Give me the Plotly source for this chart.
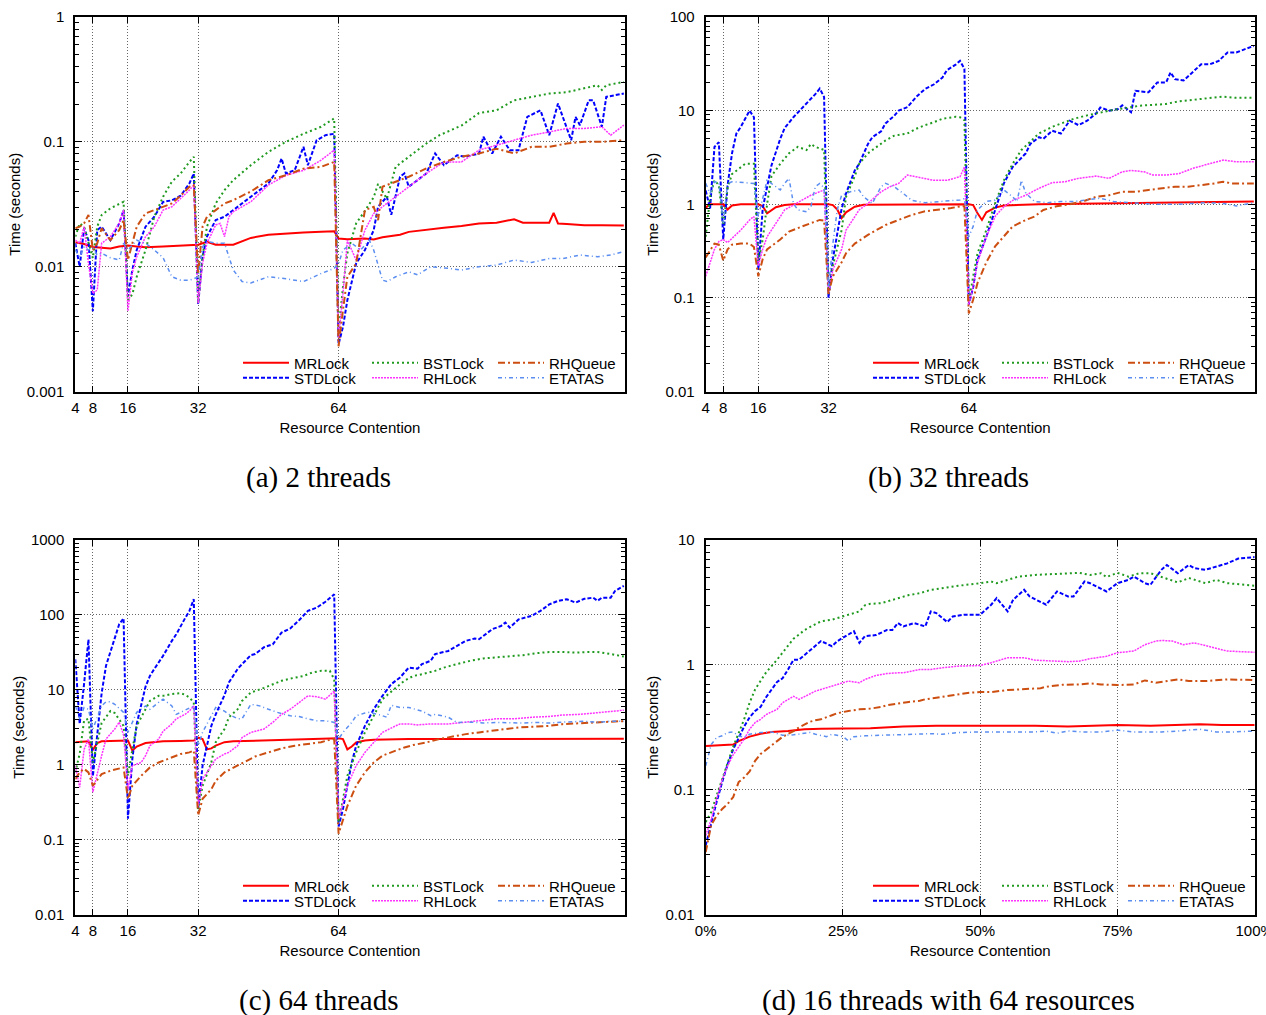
import sys
import plotly.graph_objects as go

W, H = 1266, 1015
FONT = "Liberation Sans, Arial, Helvetica, sans-serif"
SERIF = "Liberation Serif, Times New Roman, serif"

SERIES = ["MRLock", "STDLock", "BSTLock", "RHLock", "RHQueue", "ETATAS"]

# ---------------- (a) 2 threads ----------------
A_MRLOCK_X = [4,6,8,10,12,14,16,18,20,24,28,32,34,36,40,42,44,48,52,56,60,63,64,66,70,72,74,76,78,80,84,88,92,96,100,104,106,108,112,113,114,116,120,124,129]
A_MRLOCK_Y = [0.0157,0.0152,0.0144,0.0141,0.014,0.0145,0.0148,0.0145,0.0143,0.0145,0.0148,0.015,0.0158,0.015,0.015,0.016,0.017,0.018,0.0185,0.0188,0.019,0.0192,0.0168,0.0166,0.0168,0.0165,0.0172,0.0175,0.018,0.019,0.0198,0.0205,0.0212,0.0222,0.0225,0.024,0.0225,0.0225,0.0225,0.027,0.0222,0.022,0.0215,0.0215,0.0214]
A_STDLOCK_X = [4,5,6,7,8,9,10,12,14,15,16,17,18,20,22,24,26,28,30,31,32,33,34,36,38,40,44,48,50,51,52,54,56,57,59,61,63,64,65,66,68,70,72,73,75,76,78,79,80,82,84,86,88,91,93,96,97,99,101,103,105,107,110,112,114,117,118,119,121,122,124,125,129]
A_STDLOCK_Y = [0.0154,0.010,0.0203,0.0163,0.0044,0.0196,0.0209,0.0163,0.0222,0.0284,0.0058,0.0094,0.0136,0.0209,0.0251,0.033,0.034,0.037,0.0464,0.0558,0.005,0.012,0.0174,0.0236,0.0251,0.0284,0.0363,0.0464,0.0593,0.0736,0.0558,0.0593,0.0912,0.065,0.103,0.113,0.116,0.0024,0.0033,0.0054,0.0106,0.0136,0.0196,0.0302,0.0363,0.026,0.0525,0.0558,0.0437,0.0493,0.0558,0.0807,0.065,0.078,0.0759,0.0807,0.11,0.0807,0.11,0.0858,0.0858,0.1585,0.179,0.113,0.2027,0.103,0.1585,0.136,0.215,0.215,0.132,0.229,0.2436]
A_BSTLOCK_X = [4,5,6,7,8,9,10,12,14,15,16,17,18,20,22,24,26,28,30,31,32,33,34,36,38,40,44,48,52,56,60,63,64,65,66,68,70,72,73,75,77,80,84,87,92,96,100,104,108,112,116,120,123,124,125,129]
A_BSTLOCK_Y = [0.0174,0.0222,0.0209,0.0154,0.0117,0.0209,0.0259,0.0293,0.032,0.0331,0.0054,0.006,0.0083,0.0136,0.0251,0.0363,0.048,0.0558,0.069,0.0759,0.0051,0.012,0.0209,0.0321,0.041,0.0493,0.065,0.083,0.1,0.116,0.132,0.154,0.003,0.0069,0.0128,0.0222,0.028,0.036,0.046,0.035,0.063,0.0759,0.097,0.113,0.135,0.17,0.179,0.215,0.229,0.2436,0.25,0.267,0.284,0.26,0.284,0.302]
A_RHLOCK_X = [4,5,6,7,8,9,10,12,14,15,16,17,18,20,22,24,26,28,30,31,32,33,34,36,37,38,39,40,44,48,52,56,60,63,64,65,66,68,70,72,76,80,84,88,92,96,100,104,108,112,116,120,124,126,129]
A_RHLOCK_Y = [0.0163,0.0154,0.0209,0.0106,0.0061,0.0065,0.0154,0.0174,0.0222,0.0284,0.0044,0.009,0.012,0.0174,0.0209,0.0284,0.0302,0.035,0.041,0.045,0.0051,0.0106,0.0154,0.0216,0.0222,0.0174,0.0251,0.0276,0.0331,0.045,0.054,0.059,0.0713,0.0858,0.0027,0.0061,0.0163,0.0113,0.0196,0.0267,0.034,0.0437,0.0558,0.069,0.069,0.0858,0.094,0.103,0.113,0.12,0.128,0.128,0.132,0.113,0.136]
A_RHQUEUE_X = [4,5,6,7,8,9,10,12,14,15,16,17,18,20,22,24,26,28,30,31,32,33,34,36,38,40,44,48,52,56,60,63,64,65,66,68,70,72,73,74,76,80,84,88,92,96,100,104,108,112,116,120,124,129]
A_RHQUEUE_Y = [0.0203,0.0209,0.0222,0.026,0.0136,0.0154,0.0203,0.0163,0.0196,0.0236,0.0113,0.0154,0.0209,0.0267,0.0284,0.0302,0.0321,0.037,0.0437,0.045,0.0088,0.0209,0.0251,0.0284,0.0321,0.0341,0.04,0.0493,0.054,0.061,0.063,0.069,0.0023,0.0045,0.0083,0.0106,0.0284,0.0302,0.0236,0.0437,0.0464,0.0525,0.0612,0.069,0.0759,0.0807,0.088,0.0807,0.0912,0.0912,0.097,0.1,0.1,0.103]
A_ETATAS_X = [4,5,6,7,8,9,10,12,14,15,16,17,18,20,22,24,26,28,30,31,32,33,34,36,38,40,42,44,48,52,56,60,63,64,65,67,69,71,72,74,75,77,80,82,85,89,92,96,100,104,108,112,115,119,123,126,129]
A_ETATAS_Y = [0.0136,0.012,0.0144,0.0136,0.0141,0.0124,0.0128,0.0118,0.0113,0.0154,0.0136,0.0149,0.0163,0.0154,0.0136,0.0118,0.0083,0.0078,0.0078,0.008,0.0083,0.0144,0.0159,0.0154,0.0154,0.0094,0.0076,0.0074,0.0083,0.008,0.0076,0.0088,0.0097,0.0106,0.0136,0.0154,0.0136,0.0163,0.0136,0.0078,0.0076,0.0083,0.0091,0.0086,0.01,0.0097,0.0094,0.01,0.0103,0.0113,0.0108,0.0116,0.0116,0.0124,0.012,0.0124,0.0132]

# ---------------- (b) 32 threads ----------------
B_MRLOCK_X = [4,5,8,9,10,12,16,17,18,19,20,22,24,32,33,34,35,36,38,40,64,65,66,67,68,70,72,80,96,112,129]
B_MRLOCK_Y = [0.92,1.0,1.0,0.88,0.97,1.0,1.0,0.95,0.8,0.86,0.93,0.98,1.0,1.0,0.98,0.88,0.71,0.82,0.94,0.99,1.0,0.98,0.8,0.68,0.82,0.92,0.97,1.0,1.02,1.05,1.07]
B_STDLOCK_X = [4,5,6,7,8,9,10,11,12,13,14,15,16,17,18,19,21,22,24,27,29,30,31,32,33,35,36,38,39,41,42,44,45,47,48,50,52,54,56,58,59,61,62,63,64,65,66,68,70,72,74,77,78,80,81,83,85,87,89,91,93,94,96,98,99,101,102,105,107,109,110,111,113,115,117,119,121,123,125,127,129]
B_STDLOCK_Y = [1.4,0.9,4.1,4.6,0.42,1.6,3.5,5.7,6.7,8.2,10,8.5,0.2,0.9,1.6,2.6,5.0,6.5,8.5,11.8,15,17.2,14,0.1,0.26,0.9,1.3,2.3,2.7,4.4,5.2,6,7.3,8.8,10,10.9,14,17,19,22.6,27,31,34,28,0.085,0.13,0.256,0.45,0.87,1.67,2.5,3.5,4.4,5.2,5.0,6.1,5.7,7.8,7.0,7.8,9.3,10.8,10.0,10.4,11.4,9.6,16.3,15.7,20,20,25.6,21.7,21,25.6,31.3,31.3,34,41.8,41.8,45.4,49]
B_BSTLOCK_X = [4,5,6,7,8,9,10,12,13,15,16,17,18,19,21,23,25,27,28,29,31,32,33,35,36,38,39,41,43,45,47,50,52,54,56,58,61,62,63,64,65,66,68,70,72,74,76,78,80,83,85,88,91,94,97,100,103,106,109,112,115,118,122,125,129]
B_BSTLOCK_Y = [0.45,1.2,1.8,1.6,0.6,1.5,2.1,2.5,2.7,2.7,0.24,0.42,1.0,2.0,2.7,3.5,4.1,3.8,4.4,4.1,3.8,0.11,0.22,0.53,1.2,2.0,2.7,3.5,4.1,4.8,5.4,5.7,6.4,7.0,7.5,8.2,8.6,8.5,7.9,0.09,0.17,0.3,0.53,1.02,1.8,2.7,3.8,4.6,5.7,6.7,7.3,8.2,8.9,9.6,10.2,10.7,11.3,11.5,11.8,12.6,13,13.3,14.1,13.7,13.7]
B_RHLOCK_X = [4,5,6,7,8,9,12,14,15,16,17,18,20,22,24,26,28,31,32,33,35,36,38,39,41,44,46,48,50,52,54,56,59,61,62,63,64,65,66,68,70,72,74,77,80,83,86,89,93,96,99,101,104,106,109,112,115,119,122,125,129]
B_RHLOCK_Y = [0.17,0.24,0.33,0.4,0.42,0.39,0.53,0.68,0.74,0.22,0.33,0.45,0.63,0.87,0.98,1.1,1.25,1.42,0.11,0.2,0.33,0.53,0.74,0.87,1.02,1.36,1.54,1.67,2.05,1.97,1.89,1.8,1.8,1.89,1.97,2.5,0.085,0.134,0.24,0.45,0.74,0.94,1.1,1.25,1.48,1.7,1.74,1.89,2.0,1.89,2.22,2.3,2.22,2.05,2.05,2.13,2.41,2.72,2.96,2.84,2.84]
B_RHQUEUE_X = [4,6,7,8,9,10,12,14,15,16,17,18,21,23,26,28,30,31,32,33,35,36,38,41,43,45,48,51,54,57,60,62,63,64,65,66,68,70,72,74,77,79,81,84,87,90,93,96,99,102,105,108,111,114,117,120,122,124,129]
B_RHQUEUE_Y = [0.27,0.38,0.37,0.25,0.33,0.37,0.38,0.38,0.35,0.17,0.26,0.33,0.42,0.51,0.58,0.63,0.68,0.67,0.11,0.17,0.24,0.3,0.38,0.47,0.53,0.6,0.68,0.77,0.84,0.87,0.91,0.95,0.95,0.068,0.096,0.145,0.24,0.355,0.45,0.58,0.68,0.74,0.87,0.95,1.0,1.07,1.2,1.25,1.36,1.36,1.42,1.48,1.54,1.54,1.6,1.67,1.74,1.67,1.67]
B_ETATAS_X = [4,5,6,7,8,9,10,12,14,15,16,17,18,20,21,22,23,24,25,27,28,29,30,31,32,33,34,35,37,39,40,42,44,45,47,49,51,54,57,60,62,63,64,65,66,68,70,72,74,75,76,77,79,82,85,88,91,94,97,100,103,106,109,112,115,118,122,125,129]
B_ETATAS_Y = [1.67,1.3,1.74,1.7,0.63,1.67,1.74,1.7,1.67,1.67,0.74,1.2,1.8,1.54,1.42,1.67,1.89,1.02,0.87,0.83,0.95,1.54,1.67,1.5,0.13,0.38,0.87,1.25,1.36,1.42,1.2,1.02,1.54,1.67,1.54,1.31,1.1,1.04,1.07,1.09,1.11,1.15,0.45,0.58,0.87,1.07,1.11,1.42,1.2,1.07,1.8,1.31,1.07,1.04,1.07,1.07,1.11,1.16,1.07,1.04,1.02,1.0,1.0,1.0,1.02,1.04,1.02,0.96,1.04]

# ---------------- (c) 64 threads ----------------
C_MRLOCK_X = [4,7,8,9,10,12,16,17,18,20,24,28,31,32,33,34,35,36,38,40,48,56,63,64,65,66,67,68,70,72,80,96,112,129]
C_MRLOCK_Y = [2.0,2.05,1.58,1.95,2.05,2.08,2.1,1.54,1.75,1.95,2.05,2.08,2.1,2.3,2.2,1.6,1.65,1.8,2.0,2.05,2.1,2.15,2.2,2.25,2.2,1.6,1.75,1.98,2.1,2.15,2.2,2.22,2.22,2.22]
C_STDLOCK_X = [4,5,6,7,8,9,10,11,12,13,14,15,16,17,18,20,21,22,24,26,27,29,30,31,32,33,35,36,38,39,41,42,44,45,47,49,51,53,55,57,59,61,63,64,65,66,67,68,70,72,74,76,78,80,82,83,85,86,89,91,93,95,96,98,99,101,102,103,105,108,110,112,114,116,118,120,122,123,124,126,127,129]
C_STDLOCK_Y = [25.6,3.5,12,47,0.7,2.5,9,21,32,52,75,90,0.19,1.2,3.5,11,15.3,19,28.4,45,55,90,113,162,0.256,0.97,3.3,4.7,8.5,12.5,19,22,29,30,37,40.5,58,66,85,113,125,150,188,0.15,0.256,0.525,1.07,1.79,3.3,5.5,8.3,11.9,14.6,19.8,19.2,22,24.4,30,33,38.6,45,48.4,47.4,58,64.5,71,79,67.6,87,97,113,138,154,162,146,164,170,154,170,170,209,244]
C_BSTLOCK_X = [4,5,6,7,8,9,10,12,13,15,16,17,18,20,21,23,24,26,28,29,30,31,32,33,35,36,38,39,41,42,44,47,49,51,53,56,58,60,62,63,64,65,66,68,70,72,74,77,79,81,83,86,88,91,94,97,100,103,106,109,112,115,118,121,123,126,129]
C_BSTLOCK_Y = [0.79,1.4,3.9,4.1,1.07,2.0,3.6,5.2,4.9,3.3,0.71,1.6,3.3,5.5,7.1,8.3,8.3,8.8,9.0,8.6,7.9,6.8,0.256,0.52,1.07,2.0,3.0,4.3,5.5,7.1,9.2,10.6,11.8,13.2,14.1,15.3,17,17.9,17.9,13.9,0.17,0.35,0.71,1.46,2.7,4.5,7.5,10.6,13.2,15.3,16.1,17.9,19.8,22,24.4,26.2,27,27.8,29,30.8,32,32,31.4,32,32,30,27.8]
C_RHLOCK_X = [4,5,6,7,8,9,10,11,13,14,15,16,17,19,20,21,23,24,26,27,29,30,31,32,33,35,36,38,39,41,42,44,47,49,51,53,55,57,59,61,63,64,65,66,68,70,72,74,77,78,80,82,85,89,93,96,100,104,108,112,115,119,123,127,129]
C_RHLOCK_Y = [0.97,0.5,1.6,2.2,0.43,0.79,1.32,2.2,3.0,3.7,2.5,0.47,0.97,1.07,1.32,1.79,2.2,2.8,3.5,4.1,4.7,5.2,6.1,0.28,0.64,0.97,1.19,1.39,1.46,1.79,2.3,2.7,3.0,3.67,4.7,5.5,6.8,8.3,8.1,7.5,9.6,0.19,0.31,0.525,0.97,1.46,1.98,2.7,3.3,3.5,3.5,3.4,3.5,3.5,3.7,3.86,4.1,4.1,4.3,4.4,4.6,4.7,5.0,5.2,5.35]
C_RHQUEUE_X = [4,5,6,7,8,9,10,12,14,15,16,17,19,21,23,26,28,30,31,32,33,35,36,38,41,43,45,48,51,54,57,60,62,63,64,65,66,68,70,72,74,77,79,81,84,87,90,93,96,99,102,105,108,112,115,119,123,127,129]
C_RHQUEUE_Y = [0.64,0.79,0.88,0.79,0.525,0.64,0.75,0.83,0.88,0.92,0.35,0.525,0.71,0.92,1.07,1.25,1.39,1.46,1.54,0.21,0.35,0.47,0.61,0.79,0.97,1.13,1.29,1.46,1.65,1.79,1.89,2.0,2.15,2.2,0.12,0.19,0.28,0.525,0.79,1.07,1.32,1.54,1.7,1.83,1.98,2.2,2.4,2.56,2.7,2.84,2.99,3.14,3.2,3.3,3.48,3.6,3.67,3.78,3.82]
C_ETATAS_X = [4,5,6,7,8,9,10,11,12,13,15,16,17,18,20,21,23,24,26,27,28,30,31,32,33,35,36,38,39,41,42,44,46,48,50,53,55,57,59,61,63,64,65,67,68,70,71,73,75,76,78,80,83,85,86,89,91,94,97,100,103,106,109,112,115,120,123,126,129]
C_ETATAS_Y = [6.1,4.1,5.8,5.5,3.0,4.3,6.1,6.9,6.9,6.4,5.0,2.7,3.67,5.0,6.1,5.5,6.8,7.5,6.1,4.7,5.0,5.8,6.1,1.8,2.7,4.5,5.8,5.2,4.7,4.1,4.1,6.4,6.1,5.5,5.0,4.5,4.4,4.1,3.86,3.86,3.67,2.2,2.7,3.67,4.5,4.9,5.0,4.7,4.3,6.2,5.8,5.8,5.2,4.5,4.7,4.3,3.67,3.7,3.6,3.67,3.6,3.6,3.67,3.6,3.7,3.8,3.7,3.8,3.8]

# ---------------- (d) 16 threads with 64 resources (x in %) ----------------
D_MRLOCK_X = [0,2,5,6,8,10,12,15,18,21,25,30,36,42,50,60,66,72,75,81,85,90,94,100]
D_MRLOCK_Y = [0.224,0.227,0.23,0.245,0.266,0.28,0.29,0.295,0.305,0.308,0.308,0.31,0.32,0.325,0.325,0.325,0.32,0.325,0.33,0.325,0.33,0.334,0.33,0.33]
D_STDLOCK_X = [0,1,2,3,4,5,7,8,9,10,11,13,14,15,16,17,19,21,23,24,26,27,28,29,31,33,34,35,36,38,40,41,42,44,45,47,50,52,53,55,56,58,59,62,64,66,67,69,70,73,75,77,78,80,81,83,84,86,88,89,91,93,95,97,100]
D_STDLOCK_Y = [0.0357,0.055,0.08,0.115,0.16,0.21,0.32,0.38,0.427,0.46,0.55,0.73,0.78,0.918,1.1,1.1,1.3,1.55,1.41,1.55,1.75,1.86,1.5,1.7,1.73,1.9,1.9,2.16,2.03,2.16,2.03,2.68,2.6,2.2,2.44,2.52,2.52,3.03,3.42,2.68,3.32,3.99,3.53,3.03,3.87,3.53,3.53,4.65,4.51,3.87,4.51,4.79,5.09,4.51,4.37,5.77,6.3,5.42,6.3,5.95,5.77,6.13,6.5,7.1,7.3]
D_BSTLOCK_X = [0,1,2,3,4,5,7,8,9,10,11,13,14,15,16,17,18,20,21,23,24,26,27,28,29,30,32,34,36,37,39,41,43,45,46,50,52,53,55,57,60,63,66,68,70,72,73,75,77,79,81,83,86,88,89,91,93,95,100]
D_BSTLOCK_Y = [0.055,0.066,0.09,0.12,0.16,0.22,0.366,0.497,0.636,0.74,0.87,1.1,1.25,1.41,1.62,1.75,1.9,2.12,2.23,2.3,2.37,2.55,2.6,2.68,3.0,3.08,3.12,3.32,3.55,3.62,3.75,3.99,4.1,4.24,4.3,4.51,4.65,4.51,4.79,5.09,5.25,5.34,5.42,5.46,5.25,5.42,5.05,5.46,5.09,5.42,5.42,5.05,4.57,4.96,4.79,4.51,4.79,4.51,4.3]
D_RHLOCK_X = [0,1,2,3,4,5,7,8,9,10,11,13,14,16,17,19,20,22,24,26,28,29,31,33,35,36,39,41,43,46,50,52,55,58,60,63,66,68,70,73,75,78,80,82,83,85,87,89,91,93,95,100]
D_RHLOCK_Y = [0.043,0.058,0.084,0.12,0.155,0.19,0.254,0.305,0.345,0.366,0.4,0.44,0.497,0.56,0.529,0.58,0.616,0.655,0.697,0.741,0.718,0.764,0.822,0.852,0.863,0.863,0.918,0.918,0.946,0.976,0.988,1.04,1.14,1.14,1.09,1.07,1.06,1.07,1.12,1.17,1.25,1.29,1.45,1.55,1.57,1.55,1.45,1.5,1.43,1.37,1.29,1.26]
D_RHQUEUE_X = [0,1,2,3,4,5,6,7,8,9,10,11,13,14,15,16,17,19,20,21,23,24,26,28,30,32,33,35,37,39,40,42,44,46,48,50,52,55,58,61,62,65,68,70,72,75,78,80,82,86,88,91,95,100]
D_RHQUEUE_Y = [0.0316,0.052,0.062,0.07,0.077,0.087,0.115,0.125,0.14,0.17,0.193,0.21,0.245,0.265,0.278,0.295,0.315,0.35,0.36,0.366,0.395,0.41,0.427,0.44,0.446,0.46,0.474,0.49,0.504,0.515,0.53,0.545,0.562,0.587,0.598,0.605,0.605,0.628,0.636,0.65,0.668,0.692,0.697,0.71,0.697,0.688,0.697,0.75,0.718,0.764,0.741,0.741,0.764,0.755]
D_ETATAS_X = [0,1,2,3,4,5,6,7,8,10,12,13,14,16,18,19,20,22,23,25,26,27,29,32,34,36,39,41,43,46,50,53,57,60,62,64,66,69,72,75,78,80,83,86,90,93,96,100]
D_ETATAS_Y = [0.155,0.23,0.262,0.27,0.287,0.29,0.27,0.262,0.278,0.287,0.29,0.283,0.273,0.275,0.281,0.287,0.278,0.266,0.278,0.266,0.246,0.266,0.27,0.273,0.273,0.278,0.278,0.281,0.278,0.287,0.29,0.29,0.29,0.29,0.295,0.283,0.295,0.29,0.29,0.3,0.29,0.29,0.29,0.295,0.305,0.29,0.29,0.295]

CONTENTION_TICKS = [4, 8, 16, 32, 64]
PERCENT_TICKS = [0, 25, 50, 75, 100]
PERCENT_LABELS = ["0%", "25%", "50%", "75%", "100%"]
CAPTIONS = ["(a) 2 threads", "(b) 32 threads", "(c) 64 threads", "(d) 16 threads with 64 resources"]

STYLE = {
    "MRLock":  dict(color="#ff0000", dash="solid", width=2),
    "STDLock": dict(color="#0000ff", dash="4px,2px", width=2),
    "BSTLock": dict(color="#1f9a1f", dash="2px,3px", width=2),
    "RHLock":  dict(color="#ff33ff", dash="2px,1px", width=1.5),
    "RHQueue": dict(color="#cc4e10", dash="7px,3px,2px,3px", width=2),
    "ETATAS":  dict(color="#5b8ef0", dash="4px,3px,1px,3px", width=1.5),
}

DATA = {
    "a": {"MRLock": (A_MRLOCK_X, A_MRLOCK_Y), "STDLock": (A_STDLOCK_X, A_STDLOCK_Y),
          "BSTLock": (A_BSTLOCK_X, A_BSTLOCK_Y), "RHLock": (A_RHLOCK_X, A_RHLOCK_Y),
          "RHQueue": (A_RHQUEUE_X, A_RHQUEUE_Y), "ETATAS": (A_ETATAS_X, A_ETATAS_Y)},
    "b": {"MRLock": (B_MRLOCK_X, B_MRLOCK_Y), "STDLock": (B_STDLOCK_X, B_STDLOCK_Y),
          "BSTLock": (B_BSTLOCK_X, B_BSTLOCK_Y), "RHLock": (B_RHLOCK_X, B_RHLOCK_Y),
          "RHQueue": (B_RHQUEUE_X, B_RHQUEUE_Y), "ETATAS": (B_ETATAS_X, B_ETATAS_Y)},
    "c": {"MRLock": (C_MRLOCK_X, C_MRLOCK_Y), "STDLock": (C_STDLOCK_X, C_STDLOCK_Y),
          "BSTLock": (C_BSTLOCK_X, C_BSTLOCK_Y), "RHLock": (C_RHLOCK_X, C_RHLOCK_Y),
          "RHQueue": (C_RHQUEUE_X, C_RHQUEUE_Y), "ETATAS": (C_ETATAS_X, C_ETATAS_Y)},
    "d": {"MRLock": (D_MRLOCK_X, D_MRLOCK_Y), "STDLock": (D_STDLOCK_X, D_STDLOCK_Y),
          "BSTLock": (D_BSTLOCK_X, D_BSTLOCK_Y), "RHLock": (D_RHLOCK_X, D_RHLOCK_Y),
          "RHQueue": (D_RHQUEUE_X, D_RHQUEUE_Y), "ETATAS": (D_ETATAS_X, D_ETATAS_Y)},
}

# panel geometry in pixels (left, right, top, bottom)
PANELS = [
    dict(key="a", n="", px=(75.3, 624.7), py=(17, 391.5), ydec=(-3, 0), pct=False,
         leg_cols=(243, 372, 498), leg_rows=(363, 378), cap=(318, 477)),
    dict(key="b", n="2", px=(705.7, 1254.7), py=(17, 391.5), ydec=(-2, 2), pct=False,
         leg_cols=(873, 1002, 1128), leg_rows=(363, 378), cap=(948, 477)),
    dict(key="c", n="3", px=(75.3, 624.7), py=(540, 914.5), ydec=(-2, 3), pct=False,
         leg_cols=(243, 372, 498), leg_rows=(886, 901), cap=(318, 1000)),
    dict(key="d", n="4", px=(705.7, 1254.7), py=(540, 914.5), ydec=(-2, 1), pct=True,
         leg_cols=(873, 1002, 1128), leg_rows=(886, 901), cap=(948, 1000)),
]


def fmt_dec(e):
    v = 10.0 ** e
    if e >= 0:
        return str(int(round(v)))
    return ("%." + str(-e) + "f") % v


fig = go.Figure()
layout = dict(width=W, height=H, autosize=False,
              margin=dict(l=0, r=0, t=0, b=0, pad=0, autoexpand=False),
              paper_bgcolor="white", plot_bgcolor="white",
              font=dict(family=FONT, size=15, color="black"))
annotations = []
shapes = []
leg_no = 0

axis_common = dict(showline=True, linewidth=2, linecolor="black", mirror="ticks",
                   ticks="inside", tickwidth=1, tickcolor="black", automargin=False,
                   showgrid=True, gridcolor="#666666", griddash="1px,2px", gridwidth=1,
                   zeroline=False, tickfont=dict(family=FONT, size=15, color="black"),
                   ticklabeloverflow="allow")

for idx, p in enumerate(PANELS):
    n = p["n"]
    xa, ya = "x" + n, "y" + n
    xdom = [p["px"][0] / W, p["px"][1] / W]
    ydom = [1 - p["py"][1] / H, 1 - p["py"][0] / H]
    if p["pct"]:
        xr = [0, 100]
        tv, tt = PERCENT_TICKS, PERCENT_LABELS
    else:
        xr = [4, 129.2]
        tv, tt = CONTENTION_TICKS, [str(t) for t in CONTENTION_TICKS]
    layout["xaxis" + n] = dict(axis_common, domain=xdom, anchor=ya, range=xr,
                               tickmode="array", tickvals=tv, ticktext=tt, ticklen=6,
                               ticklabelstandoff=1,
                               title=dict(text="Resource Contention", standoff=8,
                                          font=dict(family=FONT, size=15)))
    lo, hi = p["ydec"]
    dec = list(range(lo, hi + 1))
    minor_vals = [m * 10.0 ** e for e in range(lo, hi) for m in range(2, 10)]
    layout["yaxis" + n] = dict(axis_common, domain=ydom, anchor=xa, type="log",
                               range=[lo, hi], tickmode="array",
                               tickvals=[10.0 ** e for e in dec],
                               ticktext=[fmt_dec(e) for e in dec], ticklen=7,
                               ticklabelstandoff=6,
                               minor=dict(ticks="inside", ticklen=4, tickwidth=1,
                                          tickcolor="black", tickmode="array",
                                          tickvals=minor_vals, showgrid=False),
                               title=dict(text="Time (seconds)", standoff=3,
                                          font=dict(family=FONT, size=15)))

    # opaque key background (hides grid lines under the key, like the original)
    x_per_px = (xr[1] - xr[0]) / (p["px"][1] - p["px"][0])
    y_per_px = (hi - lo) / (p["py"][1] - p["py"][0])
    kx0 = xr[0] + (p["leg_cols"][0] - 6 - p["px"][0]) * x_per_px
    kx1 = xr[1] - 2 * x_per_px
    ky0 = lo + (p["py"][1] - (p["leg_rows"][1] + 10)) * y_per_px
    ky1 = lo + (p["py"][1] - (p["leg_rows"][0] - 9)) * y_per_px
    shapes.append(dict(type="rect", xref=xa, yref=ya,
                       x0=kx0, x1=kx1, y0=max(ky0, lo + 1.5 * y_per_px), y1=ky1,
                       fillcolor="white", line=dict(width=0), layer="between"))

    for i, name in enumerate(SERIES):
        xs, ys = DATA[p["key"]][name]
        if len(xs) != len(ys):
            print("length mismatch", p["key"], name, len(xs), len(ys), file=sys.stderr)
        m = min(len(xs), len(ys))
        leg_no += 1
        lname = "legend" if leg_no == 1 else "legend%d" % leg_no
        col, row = i // 2, i % 2
        st = STYLE[name]
        fig.add_trace(go.Scatter(
            x=xs[:m], y=ys[:m], mode="lines", name=name, xaxis=xa, yaxis=ya,
            legend=lname, showlegend=True,
            line=dict(color=st["color"], dash=st["dash"], width=st["width"])))
        layout[lname] = dict(
            x=(p["leg_cols"][col] - 5) / W, y=1 - p["leg_rows"][row] / H,
            xref="paper", yref="paper", xanchor="left", yanchor="middle",
            bgcolor="rgba(0,0,0,0)", borderwidth=0, itemwidth=46, orientation="v",
            font=dict(family=FONT, size=15, color="black"), tracegroupgap=0)

    annotations.append(dict(text=CAPTIONS[idx], x=p["cap"][0] / W,
                            y=1 - p["cap"][1] / H, xref="paper", yref="paper",
                            xanchor="center", yanchor="middle", showarrow=False,
                            font=dict(family=SERIF, size=29, color="black")))

layout["annotations"] = annotations
layout["shapes"] = shapes
fig.update_layout(**layout)
fig.write_html("out.html", config={"displayModeBar": False},
               post_script="document.body.style.margin='0';document.body.style.overflow='hidden';")
